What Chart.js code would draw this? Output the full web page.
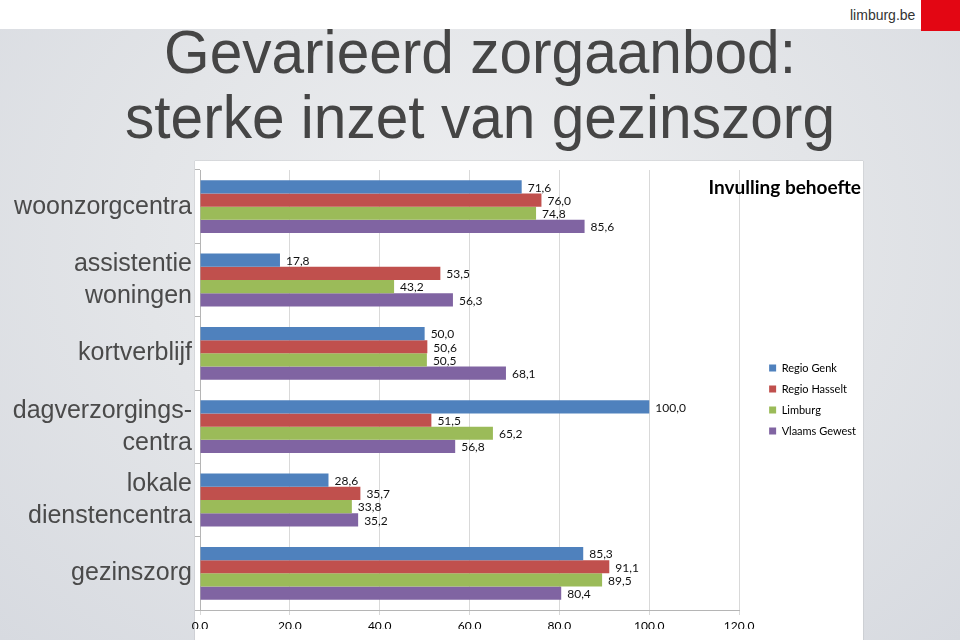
<!DOCTYPE html>
<html>
<head>
<meta charset="utf-8">
<script src="https://cdn.jsdelivr.net/npm/chart.js@4"></script>
<style>
  html, body { margin: 0; padding: 0; }
  body { width: 960px; height: 640px; position: relative; overflow: hidden; background: #fff; font-family: "Liberation Sans", Arial, sans-serif; }
  #slide { position: absolute; left: 0; top: 29px; width: 960px; height: 611px;
    background: radial-gradient(ellipse at 50% 35%, #eeeff1 0%, #e3e5e8 50%, #d7dae0 100%); }
  #logoText { position: absolute; left: 850px; top: 7px; font-family: "Liberation Sans Narrow", "Liberation Sans", sans-serif; font-size: 14px; color: #333; }
  #logo { position: absolute; left: 921px; top: 0; width: 39px; height: 31px; background: #e30613; }
  .title { position: absolute; left: 0; width: 960px; text-align: center; font-size: 62px; line-height: 1; color: #454545; transform: scaleX(0.945); transform-origin: 50% 50%; white-space: nowrap; }
  #panel { position: absolute; left: 195px; top: 161px; width: 668px; height: 479px; background: #fff; box-shadow: 0 0 1px rgba(0,0,0,0.35); }
  #chartBox { position: absolute; left: 0; top: 160px; width: 866px; height: 480px; }
</style>
</head>
<body>
<div id="slide"></div>
<div id="logoText">limburg.be</div>
<div id="logo"></div>
<div class="title" style="top:21px">Gevarieerd zorgaanbod:</div>
<div class="title" style="top:86px">sterke inzet van gezinszorg</div>
<div id="panel"></div>
<div id="chartBox"><canvas id="zorg-chart"></canvas></div>
<script>
// Data
var categories = ["woonzorgcentra", ["assistentie", "woningen"], "kortverblijf",
  ["dagverzorgings-", "centra"], ["lokale", "dienstencentra"], "gezinszorg"];
var regioGenk = [71.6, 17.8, 50.0, 100.0, 28.6, 85.3];
var regioHasselt = [76.0, 53.5, 50.6, 51.5, 35.7, 91.1];
var limburg = [74.8, 43.2, 50.5, 65.2, 33.8, 89.5];
var vlaamsGewest = [85.6, 56.3, 68.1, 56.8, 35.2, 80.4];
var xMin = 0, xMax = 120, xStep = 20;
// End data

function fmt(v) { return v.toFixed(1).replace(".", ","); }

// value labels right of each bar + chart title
var valueLabels = {
  id: "valueLabels",
  afterDatasetsDraw: function (chart) {
    var ctx = chart.ctx;
    ctx.save();
    ctx.font = "12px Lato";
    ctx.fillStyle = "#111";
    ctx.textBaseline = "middle";
    chart.data.datasets.forEach(function (ds, i) {
      chart.getDatasetMeta(i).data.forEach(function (bar, j) {
        ctx.fillText(fmt(ds.data[j]), bar.x + 6, bar.y + 1);
      });
    });
    ctx.restore();
  },
  afterDraw: function (chart) {
    var ctx = chart.ctx;
    ctx.save();
    ctx.font = "bold 19px Lato";
    ctx.fillStyle = "#000";
    ctx.textAlign = "right";
    ctx.textBaseline = "middle";
    ctx.fillText("Invulling behoefte", 861, 28);
    ctx.restore();
  }
};

var ctx = document.getElementById("zorg-chart").getContext("2d");
var myChart = new Chart(ctx, {
  type: "bar",
  data: {
    labels: categories,
    datasets: [
      { label: "Regio Genk", data: regioGenk, backgroundColor: "#4F81BD" },
      { label: "Regio Hasselt", data: regioHasselt, backgroundColor: "#C0504D" },
      { label: "Limburg", data: limburg, backgroundColor: "#9BBB59" },
      { label: "Vlaams Gewest", data: vlaamsGewest, backgroundColor: "#8064A2" }
    ]
  },
  options: {
    indexAxis: "y",
    responsive: true,
    maintainAspectRatio: false,
    animation: false,
    categoryPercentage: 0.72,
    barPercentage: 1.0,
    layout: { padding: { top: 10, right: 0, bottom: 11 } },
    plugins: {
      tooltip: { enabled: false },
      legend: {
        position: "right",
        labels: { boxWidth: 7, boxHeight: 7, padding: 10, color: "#000", font: { family: "Lato", size: 11 } }
      }
    },
    scales: {
      x: {
        min: xMin, max: xMax,
        ticks: { stepSize: xStep, callback: function (v) { return fmt(v); }, color: "#000", padding: 4, font: { family: "Lato", size: 12 } },
        grid: { color: "#d9d9d9", tickLength: 5 },
        border: { color: "#b5b5b5" },
        afterFit: function (s) { s.height = 19; }
      },
      y: {
        ticks: { color: "#4a4a4a", padding: 3, autoSkip: false, font: { family: "Liberation Sans", size: 25, lineHeight: 1.28 } },
        grid: { drawOnChartArea: false, tickLength: 5, color: "#b5b5b5", offset: true },
        border: { color: "#b5b5b5" },
        afterFit: function (s) { s.width = 200; s.paddingTop = 0; s.paddingBottom = 0; }
      },
      y2: {
        position: "right",
        type: "category",
        grid: { display: false },
        border: { display: false },
        ticks: { display: false },
        afterFit: function (s) { s.width = 20; s.paddingTop = 0; s.paddingBottom = 0; }
      }
    }
  },
  plugins: [valueLabels]
});
</script>
</body>
</html>
